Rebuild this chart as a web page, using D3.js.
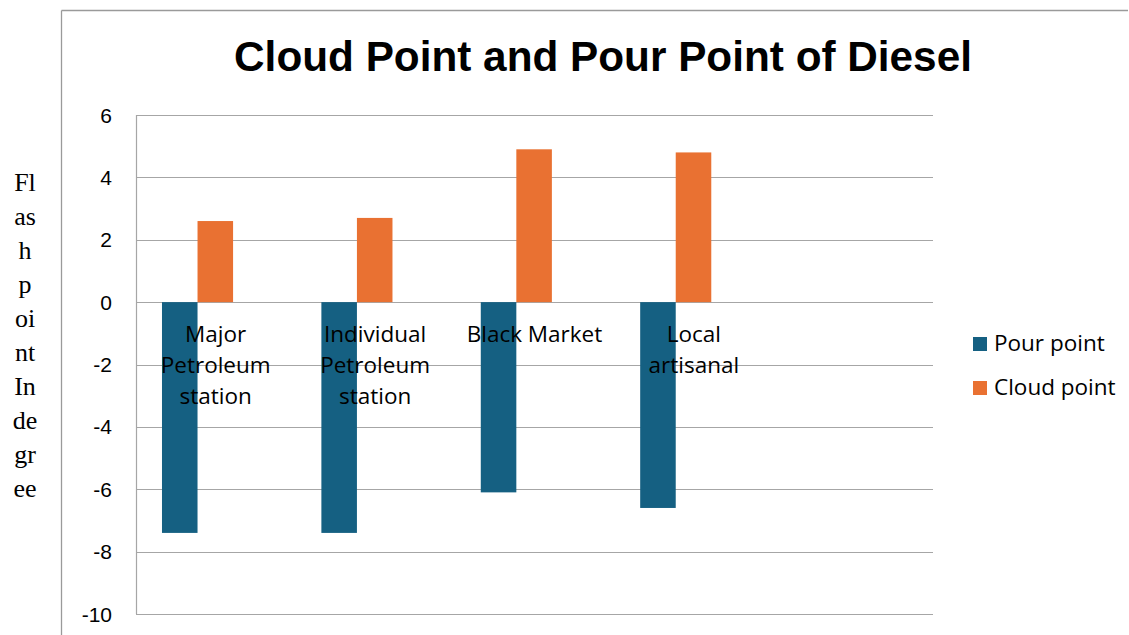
<!DOCTYPE html>
<html lang="en">
<head>
    <meta charset="UTF-8">
    <title>Cloud Point and Pour Point of Diesel</title>
    <script src="https://d3js.org/d3.v7.min.js"></script>
    <style>
        body { margin: 0; background: #fff; }
        svg { display: block; }
        .tick-label { font-family: "Liberation Sans", Arial, sans-serif; font-size: 21px; fill: #000; }
        .cat-label { font-family: "Open Sans", sans-serif; font-size: 22.5px; fill: #000; }
        .legend-label { font-family: "Open Sans", sans-serif; font-size: 22.5px; fill: #000; }
        .side-label { font-family: "Liberation Serif", "Times New Roman", serif; font-size: 26px; fill: #000; }
    </style>
</head>
<body>
<svg id="chart" width="1129" height="635"></svg>
<script>
    // categories (the chart has an empty fifth slot on the right)
    const categories = ["Major Petroleum station", "Individual Petroleum station", "Black Market", "Local artisanal", ""];
    const categoryLines = [["Major", "Petroleum", "station"], ["Individual", "Petroleum", "station"], ["Black Market"], ["Local", "artisanal"], []];
    const seriesNames = ["Pour point", "Cloud point"];
    const pourPoint = [-7.4, -7.4, -6.1, -6.6];
    const cloudPoint = [2.6, 2.7, 4.9, 4.8];
    const yTicks = [6, 4, 2, 0, -2, -4, -6, -8, -10];
    const sideText = ["Fl", "as", "h", "p", "oi", "nt", "In", "de", "gr", "ee"];
    const colors = ["#156082", "#E97132"];

    const svg = d3.select("#chart");
    const plot = {left: 136, right: 933, top: 115, bottom: 614};

    const x = d3.scaleBand().domain(categories).range([plot.left, plot.right]).padding(0);
    const y = d3.scaleLinear().domain([-10, 6]).range([plot.bottom, plot.top]);
    const barOffset = x.bandwidth() * 0.163;
    const barW = x.bandwidth() * 0.223;

    // outer chart frame (left + top edges)
    svg.append("line").attr("x1", 61.5).attr("x2", 61.5).attr("y1", 10.5).attr("y2", 635)
        .attr("stroke", "#9a9a9a").attr("stroke-width", 1.3);
    svg.append("line").attr("x1", 61.5).attr("x2", 1128).attr("y1", 10.5).attr("y2", 10.5)
        .attr("stroke", "#9a9a9a").attr("stroke-width", 1.3);

    // title
    svg.append("text")
        .attr("x", 603).attr("y", 71)
        .attr("text-anchor", "middle")
        .style("font-family", "'Liberation Sans', Arial, sans-serif")
        .style("font-weight", "bold")
        .style("font-size", "42.3px")
        .text("Cloud Point and Pour Point of Diesel");

    // gridlines
    svg.append("g").selectAll("line").data(yTicks).join("line")
        .attr("x1", plot.left).attr("x2", plot.right)
        .attr("y1", d => Math.round(y(d)) + 0.5).attr("y2", d => Math.round(y(d)) + 0.5)
        .attr("stroke", "#a6a6a6").attr("stroke-width", 1.2);

    // y axis line + labels
    svg.append("line").attr("x1", plot.left + 0.5).attr("x2", plot.left + 0.5)
        .attr("y1", plot.top).attr("y2", plot.bottom)
        .attr("stroke", "#a6a6a6").attr("stroke-width", 1.2);
    svg.append("g").selectAll("text").data(yTicks).join("text")
        .attr("class", "tick-label")
        .attr("x", 112).attr("y", d => y(d) + 7.5)
        .attr("text-anchor", "end")
        .text(d => d);

    // bars
    const series = [pourPoint, cloudPoint];
    series.forEach((vals, s) => {
        svg.append("g").selectAll("rect").data(vals).join("rect")
            .attr("x", (d, i) => x(categories[i]) + barOffset + s * barW)
            .attr("y", d => d >= 0 ? y(d) : y(0))
            .attr("width", barW)
            .attr("height", d => Math.abs(y(d) - y(0)))
            .attr("fill", colors[s]);
    });

    // category labels (drawn over the bars, as in the original)
    const catG = svg.append("g");
    categoryLines.forEach((lines, i) => {
        lines.forEach((ln, j) => {
            catG.append("text")
                .attr("class", "cat-label")
                .attr("x", x(categories[i]) + x.bandwidth() / 2)
                .attr("y", y(0) + 40 + j * 31)
                .attr("text-anchor", "middle")
                .text(ln);
        });
    });

    // legend
    const legend = svg.append("g").selectAll("g").data(seriesNames).join("g")
        .attr("transform", (d, i) => `translate(973, ${337 + i * 44})`);
    legend.append("rect").attr("width", 14).attr("height", 14).attr("fill", (d, i) => colors[i]);
    legend.append("text").attr("class", "legend-label").attr("x", 21).attr("y", 14).text(d => d);

    // side text
    svg.append("g").selectAll("text").data(sideText).join("text")
        .attr("class", "side-label")
        .attr("x", 25).attr("y", (d, i) => 191 + i * 34)
        .attr("text-anchor", "middle")
        .text(d => d);
</script>
</body>
</html>
